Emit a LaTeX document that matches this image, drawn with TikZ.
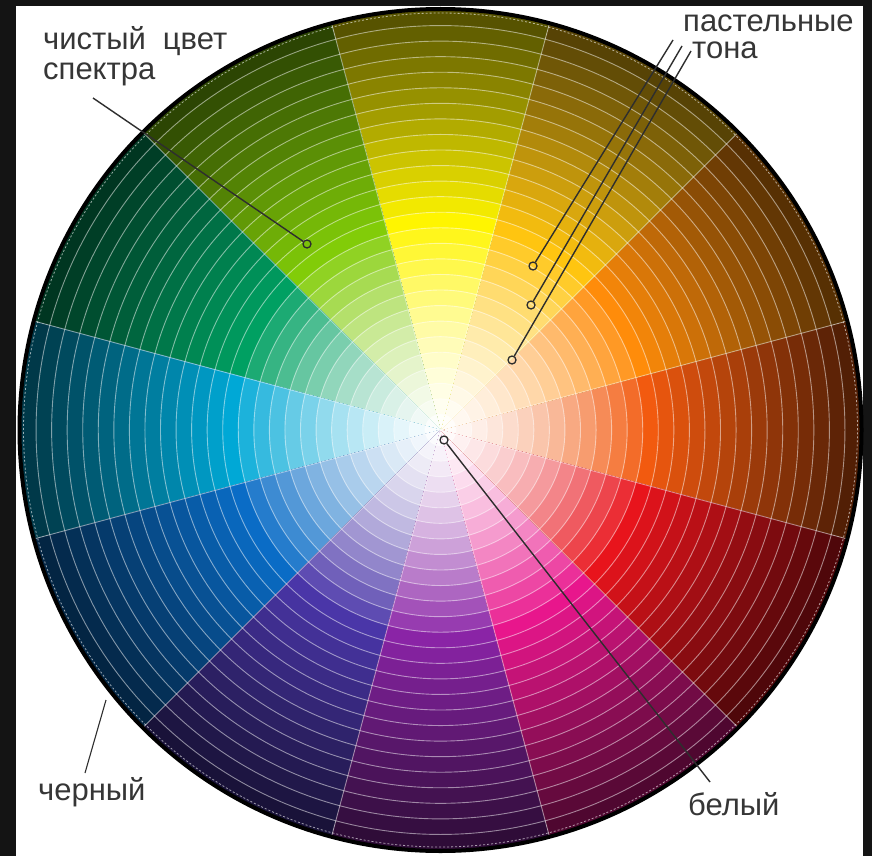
\documentclass[tikz,border=0pt]{standalone}
\usepackage{fontspec}
\setmainfont{Liberation Sans}
\definecolor{h0}{HTML}{F25A0F}
\definecolor{h1}{HTML}{FF8C0A}
\definecolor{h2}{HTML}{FFC510}
\definecolor{h3}{HTML}{FFF500}
\definecolor{h4}{HTML}{82CC08}
\definecolor{h5}{HTML}{00A062}
\definecolor{h6}{HTML}{00A8D6}
\definecolor{h7}{HTML}{0A6CC6}
\definecolor{h8}{HTML}{4A36A8}
\definecolor{h9}{HTML}{8A24A6}
\definecolor{h10}{HTML}{E8168C}
\definecolor{h11}{HTML}{E8141C}
\definecolor{lead}{HTML}{2E2E2E}
\definecolor{txt}{HTML}{363636}
\begin{document}
\begin{tikzpicture}[x=1pt,y=1pt,
  ringline/.style={draw=white, draw opacity=0.5, line width=0.9pt},
  leader/.style={draw=lead, line width=1.4pt},
  enddot/.style={circle, draw=lead, line width=1.3pt, inner sep=0pt, minimum size=8pt},
  lbl/.style={text=txt, font=\fontsize{31}{31}\selectfont, inner sep=0pt, anchor=base west, text height=22pt, text depth=4pt}]
\useasboundingbox (0,0) rectangle (872,-856);
\fill[black!92] (0,0) rectangle (872,-856);
\fill[white] (16,-6) rectangle (863,-856);
\pgfmathsetmacro\dr{420/27}
\begin{scope}[shift={(440.5,-430)}]
\foreach \s in {0,...,11}{
  \pgfmathsetmacro\aone{\s*30-15}
  \pgfmathsetmacro\atwo{\s*30+15}
  \foreach \k in {26,25,...,0}{
    \pgfmathsetmacro\r{(\k+1)*\dr}
    \pgfmathtruncatemacro\tint{\k<14 ? round(100*((\k+1)/14)^1.5) : 100}
    \pgfmathtruncatemacro\shd{\k>13 ? round(100-66*(\k-13)/13) : 100}
    \fill[fill=h\s!\tint!white!\shd!black] (0,0) -- (\aone:\r) arc[start angle=\aone, end angle=\atwo, radius=\r] -- cycle;
  }
}
\foreach \k in {1,...,26}{
  \draw[ringline] (0,0) circle[radius=\k*\dr];
}
\foreach \a in {15,45,...,345}{
  \draw[ringline] (0,0) -- (\a:420);
}
\draw[black, line width=4pt] (0,0) circle[radius=421];
\draw[white, draw opacity=0.6, line width=0.8pt, dash pattern=on 2pt off 2pt] (0,0) circle[radius=417];
\end{scope}
% labels
\node[lbl] (pure1) at (43,-50) {чистый\hspace{17pt}цвет};
\node[lbl] (pure2) at (43,-80) {спектра};
\node[lbl] (past1) at (683,-32) {пастельные};
\node[lbl] (past2) at (692,-59) {тона};
\node[lbl] (blk) at (38,-800) {черный};
\node[lbl] (wht) at (688,-815) {белый};
% end points
\node[enddot] (dpure) at (307,-244) {};
\node[enddot] (dp1) at (533,-266) {};
\node[enddot] (dp2) at (531,-305) {};
\node[enddot] (dp3) at (512,-360) {};
\node[enddot] (dwht) at (444,-440) {};
\coordinate (spure) at (93,-98);
\coordinate (sp1) at (673,-40);
\coordinate (sp2) at (682,-46);
\coordinate (sp3) at (691,-51);
\coordinate (ewht) at (710,-782);
\coordinate (sblk) at (106,-700);
\coordinate (eblk) at (85,-773);
\draw[leader] (spure) -- (dpure);
\draw[leader] (sp1) -- (dp1);
\draw[leader] (sp2) -- (dp2);
\draw[leader] (sp3) -- (dp3);
\draw[leader] (dwht) -- (ewht);
\draw[leader, line width=1.1pt] (sblk) -- (eblk);
\end{tikzpicture}
\end{document}
